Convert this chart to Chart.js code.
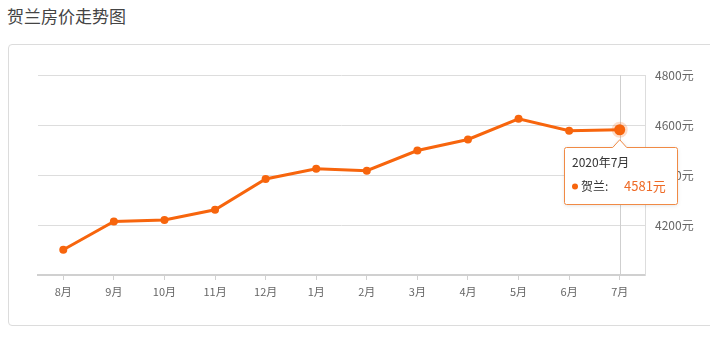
<!DOCTYPE html>
<html>
<head>
<meta charset="utf-8">
<script src="https://cdn.jsdelivr.net/npm/chart.js@4.4.0/dist/chart.umd.min.js"></script>
<style>
  body { margin: 0; background: #fff; width: 710px; height: 339px; overflow: hidden; position: relative; }
  .title { position: absolute; left: 7px; top: 3px; font: 17px "Noto Sans CJK SC", sans-serif; color: #444; }
  .frame { position: absolute; left: 8px; top: 44px; width: 720px; height: 280px; border: 1px solid #dcdcdc; border-radius: 4px; }
  #c { position: absolute; left: 0; top: 0; }
</style>
</head>
<body>
<div class="title">贺兰房价走势图</div>
<div class="frame"></div>
<canvas id="c" width="710" height="339"></canvas>
<script>
var months = ['8月', '9月', '10月', '11月', '12月', '1月', '2月', '3月', '4月', '5月', '6月', '7月'];
var prices = [4101, 4214, 4220, 4261, 4384, 4425, 4417, 4498, 4542, 4625, 4577, 4581];
var seriesName = '贺兰';
var activeIndex = 11;
var activeTitle = '2020年7月';

var orange = '#f7650d';
var font = '"Noto Sans CJK SC", sans-serif';

var radii = prices.map(function (v, i) { return i === activeIndex ? 5.5 : 4; });
var borders = prices.map(function (v, i) { return i === activeIndex ? 5 : 0; });

var overlay = {
    id: 'overlay',
    beforeDatasetsDraw: function (chart) {
        var c = chart.ctx, area = chart.chartArea;
        var x = chart.scales.x.getPixelForValue(activeIndex);
        c.save();
        c.strokeStyle = '#cfcfcf';
        c.lineWidth = 1;
        c.beginPath();
        c.moveTo(Math.round(x) + 0.5, area.top);
        c.lineTo(Math.round(x) + 0.5, area.bottom);
        c.stroke();
        c.restore();
    },
    afterDraw: function (chart) {
        var c = chart.ctx;
        var px = chart.scales.x.getPixelForValue(activeIndex);
        var py = chart.scales.y.getPixelForValue(prices[activeIndex]);
        var w = 113, h = 57;
        var left = Math.round(px - 56) + 0.5, top = Math.round(py + 17) + 0.5;
        var tipY = py + 10;
        c.save();
        c.shadowColor = 'rgba(0,0,0,0.12)';
        c.shadowBlur = 4;
        c.shadowOffsetY = 1;
        c.fillStyle = '#fff';
        c.strokeStyle = '#f08a45';
        c.lineWidth = 1;
        c.beginPath();
        c.moveTo(left + 2, top);
        c.lineTo(px - 7, top);
        c.lineTo(px, tipY);
        c.lineTo(px + 7, top);
        c.lineTo(left + w - 2, top);
        c.quadraticCurveTo(left + w, top, left + w, top + 2);
        c.lineTo(left + w, top + h - 2);
        c.quadraticCurveTo(left + w, top + h, left + w - 2, top + h);
        c.lineTo(left + 2, top + h);
        c.quadraticCurveTo(left, top + h, left, top + h - 2);
        c.lineTo(left, top + 2);
        c.quadraticCurveTo(left, top, left + 2, top);
        c.closePath();
        c.fill();
        c.shadowColor = 'transparent';
        c.stroke();

        c.textBaseline = 'middle';
        c.textAlign = 'left';
        c.font = '12px ' + font;
        c.fillStyle = '#333';
        c.fillText(activeTitle, left + 7.5, top + 15);
        c.fillStyle = orange;
        c.beginPath();
        c.arc(left + 10.5, top + 39, 3, 0, Math.PI * 2);
        c.fill();
        c.fillStyle = '#333';
        c.fillText(seriesName + ':', left + 16.5, top + 39);
        c.fillStyle = '#ee6a26';
        c.font = '13px ' + font;
        c.fillText(prices[activeIndex] + '元', left + 59.5, top + 39);
        c.restore();
    }
};

new Chart(document.getElementById('c'), {
    type: 'line',
    data: {
        labels: months,
        datasets: [{
            label: seriesName,
            data: prices,
            borderColor: orange,
            backgroundColor: orange,
            borderWidth: 3,
            pointRadius: radii,
            pointBorderWidth: borders,
            pointBorderColor: prices.map(function (v, i) { return i === activeIndex ? 'rgba(247,101,13,0.22)' : orange; }),
            pointBackgroundColor: orange,
            tension: 0
        }]
    },
    options: {
        responsive: false,
        animation: false,
        layout: { padding: { left: 38, top: 75, right: 0, bottom: 0 } },
        plugins: { legend: { display: false }, tooltip: { enabled: false } },
        scales: {
            x: {
                offset: true,
                grid: { offset: false, drawOnChartArea: false, tickLength: 5, color: '#d0d0d0' },
                border: { color: '#d0d0d0', width: 2 },
                ticks: { color: '#666', font: { size: 11, family: font }, padding: 5, maxRotation: 0 },
                afterFit: function (s) { s.height = 64; }
            },
            y: {
                position: 'right',
                min: 4000,
                max: 4800,
                grid: {
                    drawTicks: false,
                    color: function (ctx) { return ctx.tick && ctx.tick.value === 4000 ? 'rgba(0,0,0,0)' : '#dddddd'; }
                },
                border: { color: '#dddddd' },
                ticks: {
                    stepSize: 200,
                    padding: 10,
                    color: '#666',
                    font: { size: 12, family: font },
                    callback: function (v) { return v === 4000 ? '' : v + '元'; }
                },
                afterFit: function (s) { s.width = 65; }
            }
        }
    },
    plugins: [overlay]
});
</script>
</body>
</html>
